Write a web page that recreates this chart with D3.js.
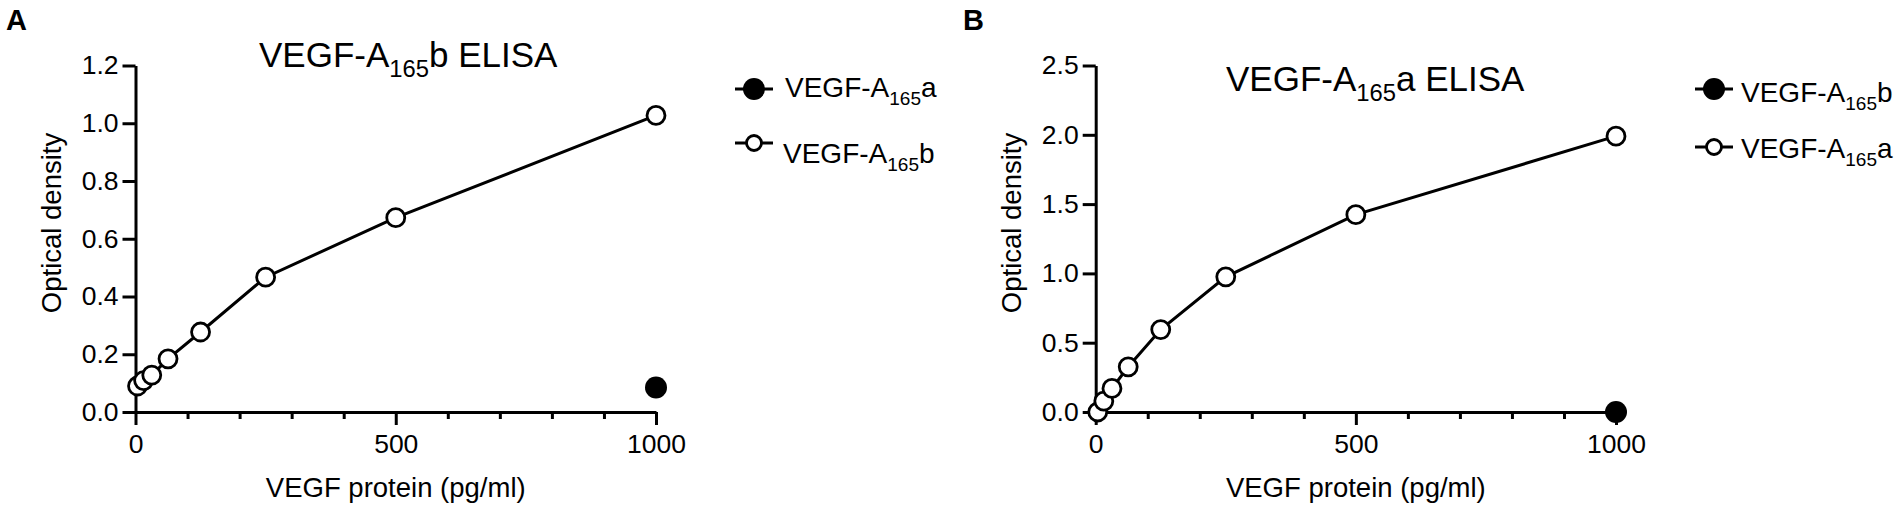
<!DOCTYPE html>
<html>
<head>
<meta charset="utf-8">
<script src="https://cdn.jsdelivr.net/npm/d3@7"></script>
<style>
  html, body { margin: 0; padding: 0; background: #fff; }
  svg { display: block; font-family: "Liberation Sans", Arial, Helvetica, sans-serif; }
</style>
</head>
<body>
<div id="chart"></div>
<script>
// Data
const concentrations = [3.9, 15.6, 31.25, 62.5, 125, 250, 500, 1000];
const filledConc = [1000];

// Panel A: VEGF-A165b ELISA
const odA_165b = [0.090, 0.109, 0.128, 0.184, 0.277, 0.467, 0.673, 1.027];
const odA_165a = [0.085];

// Panel B: VEGF-A165a ELISA
const odB_165a = [0.0, 0.079, 0.17, 0.326, 0.595, 0.975, 1.424, 1.99];
const odB_165b = [0.0];

const xTicks = [0, 500, 1000];
const xMinorTicks = [100, 200, 300, 400, 600, 700, 800, 900];
const yTicksA = [0, 0.2, 0.4, 0.6, 0.8, 1.0, 1.2];
const yTicksB = [0, 0.5, 1.0, 1.5, 2.0, 2.5];

const width = 1901;
const height = 510;

const svg = d3.select('#chart')
  .append('svg')
  .attr('width', width)
  .attr('height', height);

/**
 * Append "VEGF-A" + subscript "165" + suffix to a text element
 */
function vegfLabel(sel, suffix, size) {
  sel.append('tspan').text('VEGF-A');
  sel.append('tspan')
    .attr('dy', size * 0.28)
    .style('font-size', (size * 0.68) + 'px')
    .text('165');
  sel.append('tspan')
    .attr('dy', -size * 0.28)
    .text(suffix);
}

/**
 * Draw one panel
 */
function drawPanel(opt) {
  const x = d3.scaleLinear().domain([0, 1000]).range([opt.x0, opt.x1]);
  const y = d3.scaleLinear().domain([0, opt.yMax]).range([412, 65.5]);

  const g = svg.append('g');

  // Panel letter
  svg.append('text')
    .attr('x', opt.letterX)
    .attr('y', 30)
    .style('font-size', '29px')
    .style('font-weight', 'bold')
    .text(opt.letter);

  // Minor x ticks
  g.append('g')
    .attr('transform', `translate(0,${y(0)})`)
    .call(d3.axisBottom(x).tickValues(xMinorTicks).tickSize(7).tickFormat(''))
    .call(a => a.select('.domain').remove())
    .call(a => a.selectAll('line').attr('stroke', '#000').attr('stroke-width', 3));

  // Major x axis
  g.append('g')
    .attr('transform', `translate(0,${y(0)})`)
    .call(d3.axisBottom(x).tickValues(xTicks).tickSize(13).tickSizeOuter(0).tickPadding(9).tickFormat(d3.format('d')))
    .call(a => a.select('.domain').attr('stroke', '#000').attr('stroke-width', 3))
    .call(a => a.selectAll('line').attr('stroke', '#000').attr('stroke-width', 3))
    .call(a => a.selectAll('text').style('font-size', '26.5px').attr('fill', '#000'));

  // y axis
  g.append('g')
    .attr('transform', `translate(${x(0)},0)`)
    .call(d3.axisLeft(y).tickValues(opt.yTicks).tickSize(13).tickSizeOuter(0).tickPadding(4).tickFormat(d3.format('.1f')))
    .call(a => a.select('.domain').attr('stroke', '#000').attr('stroke-width', 3))
    .call(a => a.selectAll('line').attr('stroke', '#000').attr('stroke-width', 3))
    .call(a => a.selectAll('text').style('font-size', '26.5px').attr('fill', '#000'));

  // Axis titles
  g.append('text')
    .attr('x', x(500))
    .attr('y', 497)
    .attr('text-anchor', 'middle')
    .style('font-size', '27.5px')
    .text('VEGF protein (pg/ml)');

  g.append('text')
    .attr('transform', `translate(${opt.yTitleX},223) rotate(-90)`)
    .attr('text-anchor', 'middle')
    .style('font-size', '27.5px')
    .text('Optical density');

  // Chart title
  g.append('text')
    .attr('x', opt.titleX)
    .attr('y', opt.titleY)
    .style('font-size', '35px')
    .call(t => vegfLabel(t, opt.titleSuffix + ' ELISA', 35));

  // Open series line + points
  const openData = concentrations.map((c, i) => ({ c, v: opt.open[i] }));
  const line = d3.line().x(d => x(d.c)).y(d => y(d.v));

  g.append('path')
    .datum(openData)
    .attr('fill', 'none')
    .attr('stroke', '#000')
    .attr('stroke-width', 3)
    .attr('d', line);

  // Filled series
  const filledData = filledConc.map((c, i) => ({ c, v: opt.filled[i] }));
  g.selectAll('.filled')
    .data(filledData)
    .enter()
    .append('circle')
    .attr('class', 'filled')
    .attr('cx', d => x(d.c))
    .attr('cy', d => y(d.v))
    .attr('r', 11)
    .attr('fill', '#000');

  g.selectAll('.open')
    .data(openData)
    .enter()
    .append('circle')
    .attr('class', 'open')
    .attr('cx', d => x(d.c))
    .attr('cy', d => y(d.v))
    .attr('r', 9)
    .attr('fill', '#fff')
    .attr('stroke', '#000')
    .attr('stroke-width', 2.8);

  // Legend
  const lg = svg.append('g');
  opt.legend.forEach(item => {
    const my = item.y;
    lg.append('line')
      .attr('x1', opt.legendX - 19)
      .attr('x2', opt.legendX + 19)
      .attr('y1', my)
      .attr('y2', my)
      .attr('stroke', '#000')
      .attr('stroke-width', 3);
    if (item.filled) {
      lg.append('circle')
        .attr('cx', opt.legendX)
        .attr('cy', my)
        .attr('r', 11)
        .attr('fill', '#000');
    } else {
      lg.append('circle')
        .attr('cx', opt.legendX)
        .attr('cy', my)
        .attr('r', 7.5)
        .attr('fill', '#fff')
        .attr('stroke', '#000')
        .attr('stroke-width', 2.8);
    }
    lg.append('text')
      .attr('x', opt.legendX + item.gap)
      .attr('y', item.textY)
      .style('font-size', '28px')
      .call(t => vegfLabel(t, item.suffix, 28));
  });
}

drawPanel({
  letter: 'A',
  letterX: 6,
  x0: 135.5,
  x1: 656,
  yMax: 1.2,
  yTicks: yTicksA,
  yTitleX: 61,
  titleX: 259,
  titleY: 67,
  titleSuffix: 'b',
  open: odA_165b,
  filled: odA_165a,
  legendX: 754,
  legend: [
    { suffix: 'a', filled: true, y: 89, textY: 97, gap: 31 },
    { suffix: 'b', filled: false, y: 143, textY: 163, gap: 29 }
  ]
});

drawPanel({
  letter: 'B',
  letterX: 963,
  x0: 1095.7,
  x1: 1616,
  yMax: 2.5,
  yTicks: yTicksB,
  yTitleX: 1021,
  titleX: 1226,
  titleY: 91,
  titleSuffix: 'a',
  open: odB_165a,
  filled: odB_165b,
  legendX: 1714,
  legend: [
    { suffix: 'b', filled: true, y: 89, textY: 102, gap: 27 },
    { suffix: 'a', filled: false, y: 147, textY: 158, gap: 27 }
  ]
});
</script>
</body>
</html>
